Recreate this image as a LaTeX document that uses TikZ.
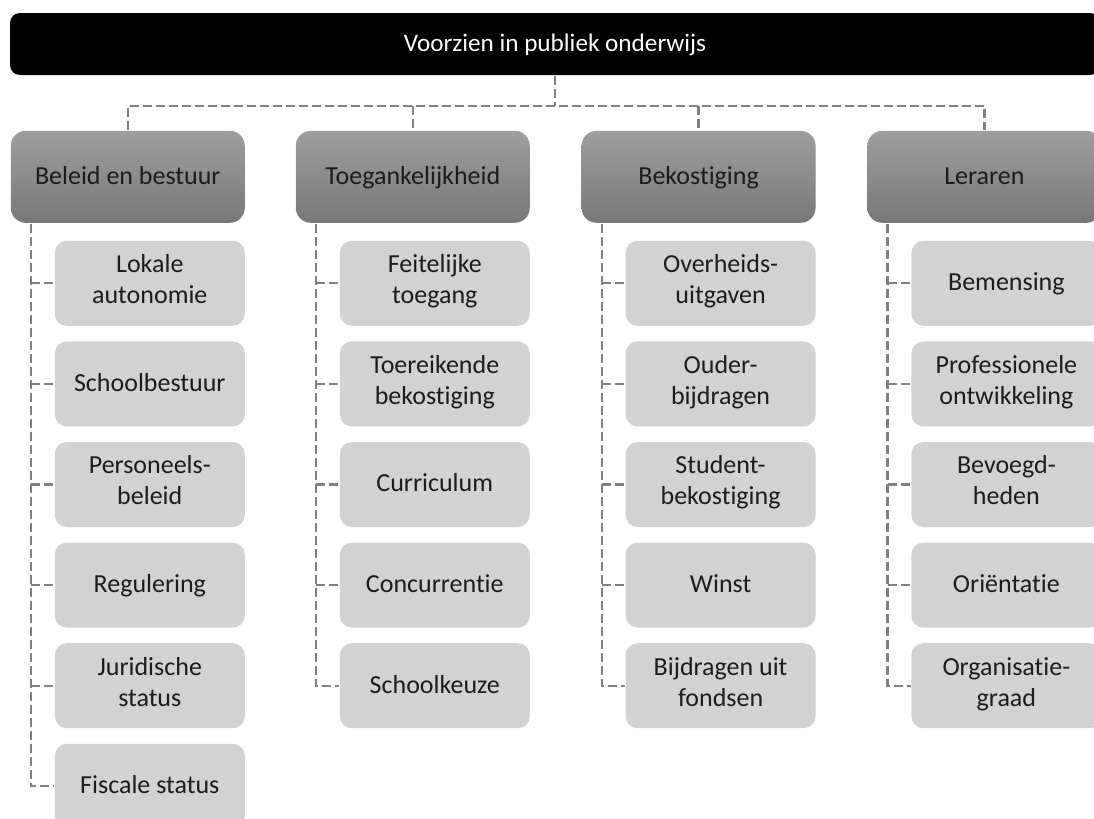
\documentclass[tikz,border=0pt]{standalone}
\usepackage{fontspec}
\setmainfont{Carlito}[Ligatures=NoCommon]
\usepackage{tikz}
\usetikzlibrary{backgrounds,calc,matrix}

\definecolor{kopboven}{RGB}{158,158,158}
\definecolor{koponder}{RGB}{120,120,120}
\definecolor{elemgrijs}{RGB}{210,210,210}
\definecolor{lijngrijs}{RGB}{128,128,128}
\definecolor{tekst}{RGB}{28,28,28}
\newcommand\regel{\rule[-4.1pt]{0pt}{15.5pt}}

\begin{document}
\begin{tikzpicture}[thick]
      \tikzstyle{topbar} = [fill=black,text=white,rounded corners=5pt,minimum width=545pt,minimum height=31pt,inner sep=0pt,font=\fontsize{12.6}{15.5}\selectfont,execute at begin node=\regel]
      \tikzstyle{category} = [top color=kopboven,bottom color=koponder,rounded corners=7.5pt,minimum width=117pt,minimum height=46pt,inner sep=0pt,anchor=east,text=tekst,font=\fontsize{13}{15.5}\selectfont,execute at begin node=\regel]
      \tikzstyle{element} = [fill=elemgrijs,rounded corners=6pt,minimum width=95pt,minimum height=42.5pt,inner sep=0pt,align=center,anchor=east,text=tekst,font=\fontsize{13}{15.5}\selectfont,execute at begin node=\regel,execute at end node=\regel]
      \tikzstyle{connector} = [draw=lijngrijs,line width=1.15pt,dash pattern=on 4.5pt off 2pt]
      %
      \useasboundingbox (0,0) rectangle (547pt,-409.5pt);
      \clip (0,0) rectangle (547pt,-409.5pt);
      \node[topbar] (top) at (277.5pt,-22pt) {Voorzien in publiek onderwijs};

      \matrix[row sep=7.8pt, column sep=25.5pt, inner sep=0pt, anchor=north west] (tree) at (5pt,-65pt) {
      % Header row.
      \node[category] (H1) {Beleid en bestuur}; &
      \node[category] (H2) {Toegankelijkheid}; &
      \node[category] (H3) {Bekostiging}; &
      \node[category] (H4) {Leraren}; \\[1.2pt]

      % First row.
      \node[element] (c11) {Lokale\\autonomie}; &
      \node[element] (c21) {Feitelijke\\toegang}; &
      \node[element] (c31) {Overheids-\\uitgaven}; &
      \node[element] (c41) {Bemensing}; \\

      % Second row.
      \node[element] (c12) {Schoolbestuur}; &
      \node[element] (c22) {Toereikende\\bekostiging}; &
      \node[element] (c32) {Ouder-\\bijdragen}; &
      \node[element] (c42) {Professionele\\ontwikkeling}; \\

      % Third row.
      \node[element] (c13) {Personeels-\\beleid}; &
      \node[element] (c23) {Curriculum}; &
      \node[element] (c33) {Student-\\bekostiging}; &
      \node[element] (c43) {Bevoegd-\\heden}; \\

      % Fourth row.
      \node[element] (c14) {Regulering}; &
      \node[element] (c24) {Concurrentie}; &
      \node[element] (c34) {Winst}; &
      \node[element] (c44) {Oriëntatie}; \\

      % Fifth row.
      \node[element] (c15) {Juridische\\status}; &
      \node[element] (c25) {Schoolkeuze}; &
      \node[element] (c35) {Bijdragen uit\\fondsen}; &
      \node[element] (c45) {Organisatie-\\graad}; \\

      % Sixth row.
      \node[element] (c16) {Fiscale status}; &&& \\
      };
      \begin{pgfonlayer}{background}
          % Draw lines from the top bar.
          \draw[connector] (top.south) -- ++(0,-15pt) coordinate (split);
          \draw[connector] (H1.north) |- (split) -| (H4.north);
          \draw[connector] (split -| H2.north) -- (H2.north) (split -| H3.north) -- (H3.north);
          % Draw the column trunks.
          \draw[connector] ($(H1.south west)+(10.5pt,0)$) coordinate (t1) |- (c16.west);
          \draw[connector] ($(H2.south west)+(10.5pt,0)$) coordinate (t2) |- (c25.west);
          \draw[connector] ($(H3.south west)+(10.5pt,0)$) coordinate (t3) |- (c35.west);
          \draw[connector] ($(H4.south west)+(10.5pt,0)$) coordinate (t4) |- (c45.west);
          % Draw the ticks.
          \draw[connector] (t1 |- c11.west) -- (c11.west) (t1 |- c12.west) -- (c12.west) (t1 |- c13.west) -- (c13.west) (t1 |- c14.west) -- (c14.west) (t1 |- c15.west) -- (c15.west);
          \draw[connector] (t2 |- c21.west) -- (c21.west) (t2 |- c22.west) -- (c22.west) (t2 |- c23.west) -- (c23.west) (t2 |- c24.west) -- (c24.west);
          \draw[connector] (t3 |- c31.west) -- (c31.west) (t3 |- c32.west) -- (c32.west) (t3 |- c33.west) -- (c33.west) (t3 |- c34.west) -- (c34.west);
          \draw[connector] (t4 |- c41.west) -- (c41.west) (t4 |- c42.west) -- (c42.west) (t4 |- c43.west) -- (c43.west) (t4 |- c44.west) -- (c44.west);
      \end{pgfonlayer}
      %
\end{tikzpicture}
\end{document}
